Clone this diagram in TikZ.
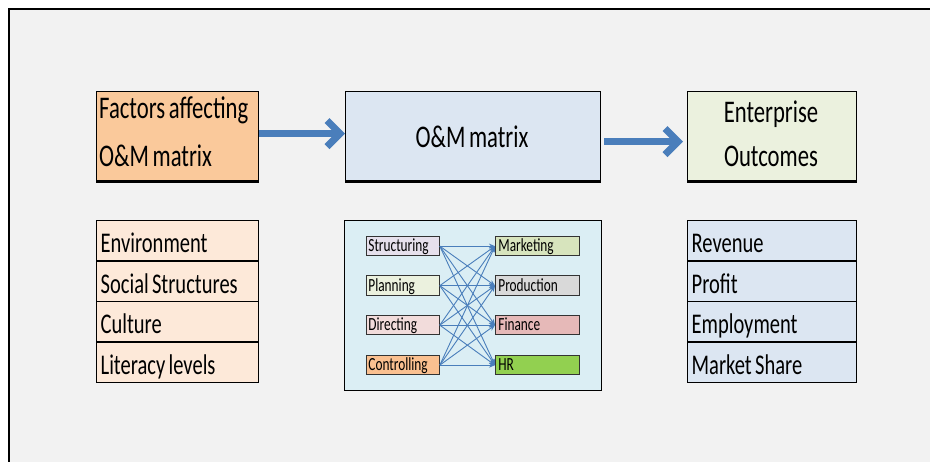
\documentclass[tikz,border=0pt]{standalone}
\usepackage{fontspec}
\setmainfont{Carlito}
\newfontfamily\cnd{Carlito}[FakeStretch=0.72,WordSpace=0.7]
\usetikzlibrary{arrows.meta}
\definecolor{bgc}{HTML}{F2F2F2}
\definecolor{facfill}{HTML}{FAC99B}
\definecolor{omfill}{HTML}{DCE6F2}
\definecolor{entfill}{HTML}{EBF1DE}
\definecolor{listL}{HTML}{FDE9D9}
\definecolor{listR}{HTML}{DCE6F2}
\definecolor{panelc}{HTML}{DBEEF4}
\definecolor{cStr}{HTML}{E6E0EC}
\definecolor{cPla}{HTML}{EBF1DE}
\definecolor{cDir}{HTML}{F2DCDB}
\definecolor{cCon}{HTML}{FAC090}
\definecolor{cMar}{HTML}{D7E4BD}
\definecolor{cPro}{HTML}{D9D9D9}
\definecolor{cFin}{HTML}{E6B9B8}
\definecolor{cHR}{HTML}{92D050}
\definecolor{arrowblue}{HTML}{4A7EBB}
\begin{document}
\begin{tikzpicture}[x=1pt,y=-1pt,
  bigbox/.style={draw=black, line width=1.2pt, minimum height=89pt, anchor=north west, inner sep=0pt},
  hdr/.style={font=\cnd\fontsize{31.5}{36}\selectfont, inner sep=0pt},
  rowbox/.style={draw=black, line width=1.3pt, minimum height=40.5pt, anchor=north west,
    inner xsep=4pt, inner ysep=0pt, align=flush left, text height=24pt, text depth=0.5pt,
    font=\cnd\fontsize{28.5}{30}\selectfont},
  rowL/.style={rowbox, fill=listL, text width=154pt, minimum width=162pt},
  rowR/.style={rowbox, fill=listR, text width=161pt, minimum width=169pt},
  smallbox/.style={draw=black!80, line width=0.8pt, minimum height=19.5pt, anchor=north west,
    inner ysep=0pt, align=flush left, text height=12pt, text depth=1pt,
    font=\cnd\fontsize{18.5}{20}\selectfont},
  smallL/.style={smallbox, inner xsep=2pt, text width=69pt, minimum width=73pt},
  smallR/.style={smallbox, inner xsep=3pt, text width=78pt, minimum width=84pt},
  bigarrow/.style={draw=arrowblue, line width=7pt, -{Straight Barb[length=13pt,width=26pt]}},
  thinarrow/.style={draw=arrowblue, line width=0.9pt, -{Stealth[length=6pt,width=5pt]}}
]
\useasboundingbox (0,0) rectangle (930,462);
\fill[white] (0,0) rectangle (930,462);
\fill[bgc] (9,9) rectangle (930,462);
\draw[line width=2pt] (9,462) -- (9,9) -- (930,9);

% top boxes
\node[bigbox, fill=facfill, minimum width=162pt] (fac) at (96,91) {};
\node[bigbox, fill=omfill, minimum width=255pt] (om) at (345,91) {};
\node[bigbox, fill=entfill, minimum width=169pt] (ent) at (687,91) {};
\draw[line width=3pt] (fac.south west) -- (fac.south east);
\draw[line width=3pt] (om.south west) -- (om.south east);
\draw[line width=3pt] (ent.south west) -- (ent.south east);

\node[hdr, anchor=base west] (facA) at (99,119) {Factors affecting};
\node[hdr, anchor=base west] (facB) at (99,167) {O\&M matrix};
\node[hdr, anchor=base] (omT) at (472,148) {O\&M matrix};
\node[hdr, anchor=base] (entA) at (771,123) {Enterprise};
\node[hdr, anchor=base] (entB) at (771,167) {Outcomes};

% big arrows
\draw[bigarrow] ([yshift=2.5pt]fac.east) -- ([yshift=2.5pt]om.west);
\coordinate (a2s) at ([xshift=3pt,yshift=-5.5pt]om.east);
\coordinate (a2e) at ([xshift=-4pt,yshift=-5.5pt]ent.west);
\draw[bigarrow] (a2s) -- (a2e);

% left list
\node[rowL] (env) at (96,220) {Environment};
\node[rowL] (soc) at (96,260.5) {Social Structures};
\node[rowL] (cul) at (96,301) {Culture};
\node[rowL] (lit) at (96,341.5) {Literacy levels};

% right list
\node[rowR] (rev) at (687,220) {Revenue};
\node[rowR] (pro) at (687,260.5) {Profit};
\node[rowR] (emp) at (687,301) {Employment};
\node[rowR] (mar) at (687,341.5) {Market Share};

% middle panel
\node[draw=black, line width=0.8pt, fill=panelc, minimum width=257pt, minimum height=170pt, anchor=north west, inner sep=0pt] (panel) at (344,220) {};

\node[smallL, fill=cStr] (s) at (366,236) {Structuring};
\node[smallL, fill=cPla] (p) at (366,275.5) {Planning};
\node[smallL, fill=cDir] (d) at (366,315) {Directing};
\node[smallL, fill=cCon] (c) at (366,355) {Controlling};

\node[smallR, fill=cMar] (m) at (495,236) {Marketing};
\node[smallR, fill=cPro] (pr) at (495,275.5) {Production};
\node[smallR, fill=cFin] (f) at (495,315) {Finance};
\node[smallR, fill=cHR] (h) at (495,355) {HR};

\foreach \a in {s,p,d,c}
  \foreach \b in {m,pr,f,h}
    \draw[thinarrow] (\a.east) -- (\b.west);
\end{tikzpicture}
\end{document}
